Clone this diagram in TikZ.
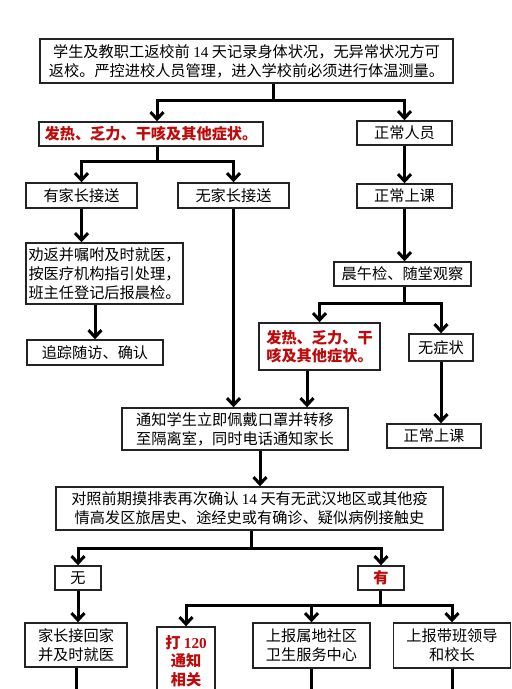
\documentclass[tikz,border=0pt]{standalone}
\usepackage{fontspec}
\setmainfont{Noto Sans CJK SC}
\newfontfamily\latinfont{Liberation Serif}
\usetikzlibrary{arrows.meta}
\definecolor{warnclr}{RGB}{190,10,10}
\definecolor{edgeclr}{RGB}{35,35,35}
\newcommand{\digits}[1]{{\latinfont #1}}
\tikzset{
  box/.style={draw=edgeclr,line width=1.4pt,fill=white,inner sep=0pt,
              align=center,font=\fontsize{15.2}{19}\selectfont},
  warnbox/.style={box,text=warnclr,font=\fontsize{15.2}{18.5}\selectfont\bfseries},
  feed/.style={line width=3pt,draw=black},
  flow/.style={feed,-{Straight Barb[length=7pt,width=13pt]}},
}

\begin{document}
\begin{tikzpicture}[x=1pt,y=-1pt]
\useasboundingbox (0,0) rectangle (512,689);
\clip (0,0) rectangle (512,689);

% Entry check
\node[box,minimum width=413,minimum height=44] (entry) at (246.5,61)
  {学生及教职工返校前 \digits{14} 天记录身体状况，无异常状况方可\\返校。严控进校人员管理，进入学校前必须进行体温测量。};

% Left branch: symptoms at the gate
\node[warnbox,minimum width=224,minimum height=24] (sym1) at (151,134) {发热、乏力、干咳及其他症状。};
\node[box,minimum width=111,minimum height=25] (withp) at (81.5,195.5) {有家长接送};
\node[box,minimum width=111,minimum height=25] (nop) at (233.5,195.5) {无家长接送};
\node[box,minimum width=157,minimum height=61] (advise) at (104.5,273.5)
  {劝返并嘱咐及时就医，\\按医疗机构指引处理，\\班主任登记后报晨检。};
\node[box,minimum width=136,minimum height=25] (track) at (95,352.5) {追踪随访、确认};

% Right branch: normal staff
\node[box,minimum width=95,minimum height=24] (norm1) at (404.5,133) {正常人员};
\node[box,minimum width=95,minimum height=24] (class1) at (404.5,196) {正常上课};
\node[box,minimum width=137,minimum height=24] (check) at (402.5,274) {晨午检、随堂观察};
\node[warnbox,minimum width=121,minimum height=47] (sym2) at (319.5,346.5) {发热、乏力、干\\咳及其他症状。};
\node[box,minimum width=64,minimum height=27] (nosym) at (441,347.5) {无症状};
\node[box,minimum width=94,minimum height=24] (class2) at (434,436) {正常上课};

% Isolation and re-check
\node[box,minimum width=226,minimum height=42] (notify) at (235,429)
  {通知学生立即佩戴口罩并转移\\至隔离室，同时电话通知家长};
\node[box,minimum width=387,minimum height=43] (recheck) at (249.5,508.5)
  {对照前期摸排表再次确认 \digits{14} 天有无武汉地区或其他疫\\情高发区旅居史、途经史或有确诊、疑似病例接触史};
\node[box,minimum width=46,minimum height=24] (none) at (78,578) {无};
\node[warnbox,minimum width=46,minimum height=24] (has) at (381,578) {有};

% Outcomes
\node[box,minimum width=102,minimum height=44] (pickup) at (76,645) {家长接回家\\并及时就医};
\node[warnbox,minimum width=58,minimum height=86] (call) at (186,670) {打 \digits{120}\\通知\\相关\\部门};
\node[box,minimum width=117,minimum height=45] (report1) at (311.5,645.5) {上报属地社区\\卫生服务中心};
\node[box,minimum width=117,minimum height=45] (report2) at (452,645.5) {上报带班领导\\和校长};

% Junctions
\coordinate (j1) at (273,100);
\coordinate (j2) at (157,161);
\coordinate (j3) at (404,303);
\coordinate (j4) at (251,548);
\coordinate (j5) at (380,605);
\coordinate (lowedge) at (0,700);

% Connectors
\draw[feed] (j1 |- entry.south) -- (j1);
\draw[flow] (j1) -| ([xshift=6]sym1.north);
\draw[flow] (j1) -| (norm1.north);
\draw[feed] (j2 |- sym1.south) -- (j2);
\draw[flow] (j2) -| (withp.north);
\draw[flow] (j2) -| (nop.north);
\draw[flow] (withp.south) -- (withp.south |- advise.north);
\draw[flow] (advise.south -| track) -- (track);
\draw[flow] (nop.south) -- (nop.south |- notify.north);
\draw[flow] (norm1) -- (class1);
\draw[flow] (class1.south) -- (class1.south |- check.north);
\draw[feed] (j3 |- check.south) -- (j3);
\draw[flow] (j3) -| (sym2.north);
\draw[flow] (j3) -| (nosym.north);
\draw[flow] ([xshift=-12.5]sym2.south) -- ([xshift=-12.5]sym2.south |- notify.north);
\draw[flow] (nosym.south) -- (nosym.south |- class2.north);
\draw[flow] ([xshift=25]notify.south) -- ([xshift=25]notify.south |- recheck.north);
\draw[feed] (j4 |- recheck.south) -- (j4);
\draw[flow] (j4) -| (none.north);
\draw[flow] (j4) -| (has.north);
\draw[flow] (none.south) -- (none.south |- pickup.north);
\draw[feed] (j5 |- has.south) -- (j5);
\draw[flow] (j5) -| (call.north);
\draw[flow] (j5) -| (report1.north);
\draw[flow] (j5) -| (report2.north);
\draw[feed] (pickup.south) -- (pickup.south |- lowedge);
\draw[feed] (report1.south) -- (report1.south |- lowedge);
\draw[feed] (report2.south) -- (report2.south |- lowedge);
\end{tikzpicture}
\end{document}
